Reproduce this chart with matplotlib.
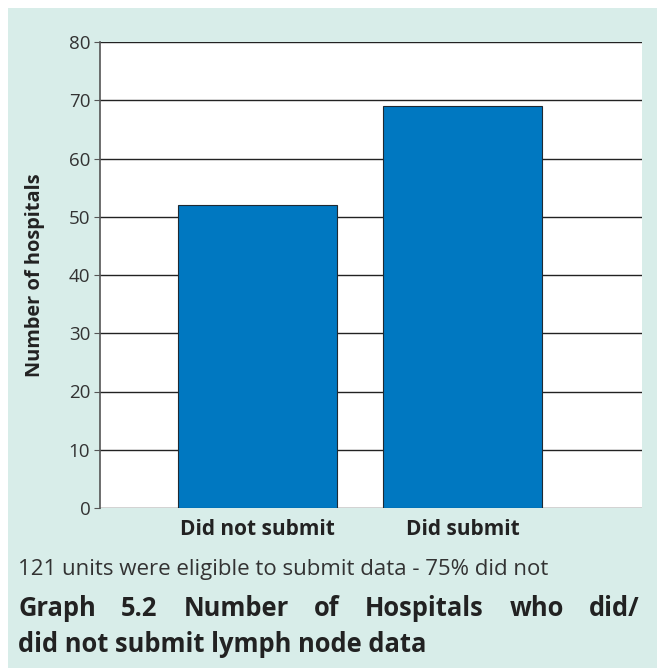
import matplotlib.pyplot as plt
from matplotlib.patches import Rectangle

categories = ['Did not submit', 'Did submit']
hospitals = [52, 69]
yticks = [0, 10, 20, 30, 40, 50, 60, 70, 80]
caption = '121 units were eligible to submit data - 75% did not'
title_line1 = 'Graph 5.2 Number of Hospitals who did/'
title_line2 = 'did not submit lymph node data'

bg = '#d8ede9'
plt.rcParams['font.family'] = ['Open Sans', 'DejaVu Sans']

fig = plt.figure(figsize=(6.57, 6.68), dpi=100)
fig.patch.set_facecolor('white')
# mint panel behind everything
fig.patches.append(Rectangle((8/657, 0), 1, 1 - 8/668, transform=fig.transFigure,
                             facecolor=bg, edgecolor='none', zorder=-10))

ax = fig.add_axes([100/657, 1 - 508/668, 542/657, 466/668])
ax.set_facecolor('white')
x = range(len(categories))
ax.bar(x, hospitals, width=0.776, color='#0078c1', edgecolor='#1f2a33', linewidth=0.8, zorder=3)
ax.set_xlim(-0.768, 1.875)
ax.set_ylim(0, 80)
ax.set_yticks(yticks)
ax.grid(axis='y', color='#222222', linewidth=1.0, zorder=0)
ax.set_axisbelow(True)
for s in ['top', 'right', 'bottom']:
    ax.spines[s].set_visible(False)
ax.spines['left'].set_color('#555555')
ax.spines['left'].set_linewidth(1.2)
ax.tick_params(axis='y', length=4, color='#555555', labelsize=13.5, labelcolor='#333333', pad=3)
ax.set_xticks(list(x))
ax.set_xticklabels(categories, fontweight='bold', fontsize=15, color='#222222')
ax.tick_params(axis='x', length=0, pad=8)
ax.set_ylabel('Number of hospitals', fontweight='bold', fontsize=14.4, color='#222222', labelpad=17)

fig.text(18/657, 1 - 569/668, caption, fontsize=16, color='#333333', va='center')

# justified first title line
fig.canvas.draw()
r = fig.canvas.get_renderer()
words = title_line1.split()
x0, x1 = 18, 640
ts = [fig.text(0, 1 - 608/668, w, fontsize=18.4, fontweight='bold', color='#222222', va='center') for w in words]
widths = [t.get_window_extent(r).width for t in ts]
gap = (x1 - x0 - sum(widths)) / (len(words) - 1)
pos = x0
for t, w in zip(ts, widths):
    t.set_x(pos / 657)
    pos += w + gap
fig.text(18/657, 1 - 645/668, title_line2, fontsize=18.4, fontweight='bold', color='#222222', va='center')

plt.savefig('out.png', dpi=100, facecolor=fig.get_facecolor())
